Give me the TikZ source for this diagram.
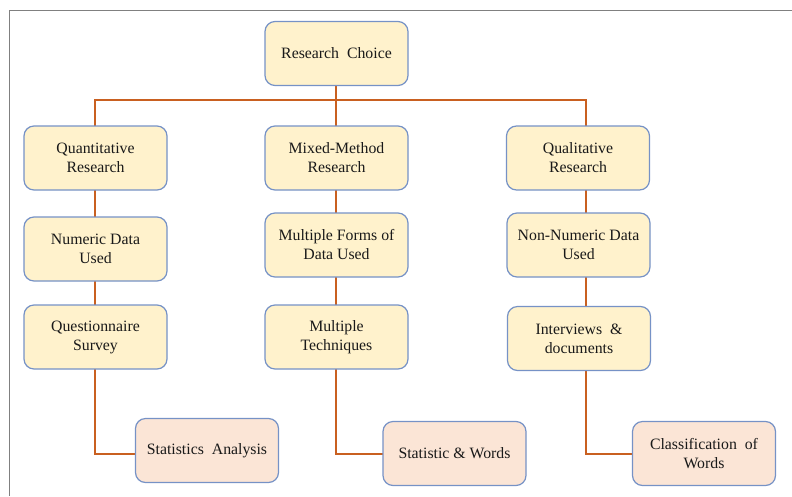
\documentclass[tikz,border=0pt]{standalone}
\usepackage{fontspec}
\setmainfont{Liberation Serif}
\newfontfamily\diagfont{Liberation Serif}
\begin{document}
\definecolor{linkorange}{RGB}{201,96,32}
\definecolor{boxedge}{RGB}{118,146,198}
\definecolor{paleyellow}{RGB}{255,242,204}
\definecolor{palepink}{RGB}{251,229,214}
\definecolor{framegray}{RGB}{128,128,128}
\begin{tikzpicture}[x=1pt,y=-1pt,
  box/.style={draw=boxedge, line width=1.2pt, rounded corners=10pt,
    minimum width=143pt, minimum height=64pt, align=center,
    font=\diagfont\fontsize{15.8}{19}\selectfont, text=black!90, inner sep=2pt},
  stage/.style={box, fill=paleyellow},
  outcome/.style={box, fill=palepink},
  link/.style={draw=linkorange, line width=2pt}]
\useasboundingbox (0,0) rectangle (792,496);
% partial frame along the top and left edges
\draw[framegray, line width=1pt] (792,10.5) -- (9.5,10.5) -- (9.5,496);

% connector rails (x positions of the vertical runs, y of the horizontal runs)
\coordinate (colA) at (95,0);
\coordinate (colB) at (336,0);
\coordinate (colC) at (586,0);
\coordinate (bus)  at (0,100);
\coordinate (foot) at (0,454);

% links are drawn first so the boxes sit on top of them
\draw[link] (colB |- 0,86) -- (colB |- bus);
\draw[link] (colA |- 0,126) -- (colA |- bus) -- (colC |- bus) -- (colC |- 0,126);
\draw[link] (colB |- bus) -- (colB |- 0,126);
\draw[link] (colA |- 0,190) -- (colA |- 0,305);
\draw[link] (colB |- 0,190) -- (colB |- 0,305);
\draw[link] (colC |- 0,190) -- (colC |- 0,306);
\draw[link] (colA |- 0,369) -- (colA |- foot) -- (136,454);
\draw[link] (colB |- 0,369) -- (colB |- foot) -- (384,454);
\draw[link] (colC |- 0,371) -- (colC |- foot) -- (633,454);

% root
\node[stage] (rc) at (336.5,53.5) {Research\ \ Choice};

% three branches
\node[stage] (quant) at (95.5,158) {Quantitative\\Research};
\node[stage] (mixed) at (336.5,158) {Mixed-Method\\Research};
\node[stage] (qual)  at (578,158) {Qualitative\\Research};

\node[stage] (numeric)  at (95.5,249) {Numeric Data\\Used};
\node[stage] (forms)    at (336.5,245) {Multiple Forms of\\Data Used};
\node[stage] (nonnum)   at (578.5,245) {Non-Numeric Data\\Used};

\node[stage] (quest)  at (95.5,337) {Questionnaire\\Survey};
\node[stage] (tech)   at (336.5,337) {Multiple\\Techniques};
\node[stage] (interv) at (579,338.5) {Interviews\ \ \&\\documents};

\node[outcome] (stat)  at (207,450.5) {Statistics\ \ Analysis};
\node[outcome] (sw)    at (454.5,453.5) {Statistic \& Words};
\node[outcome] (class) at (704,453.5) {Classification\ \ of\\Words};
\end{tikzpicture}
\end{document}
